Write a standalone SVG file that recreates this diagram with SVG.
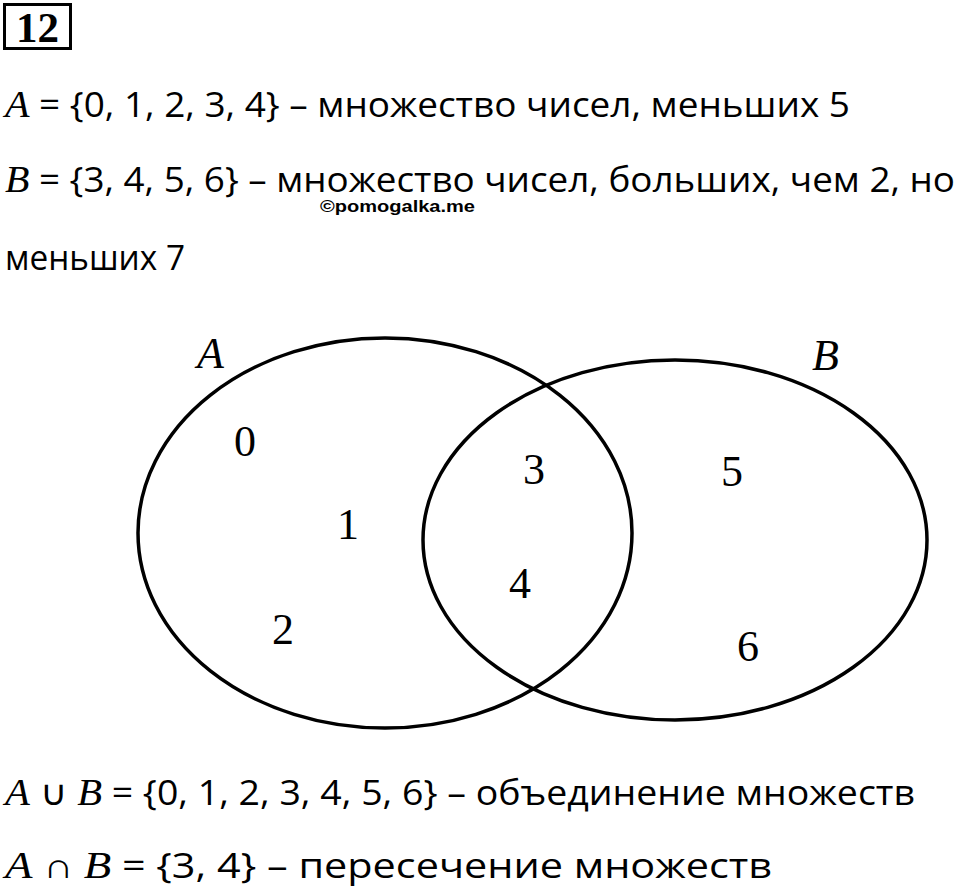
<svg xmlns="http://www.w3.org/2000/svg" width="960" height="891" viewBox="0 0 960 891">
<style>
.t{font-family:"Open Sans","Noto Sans","Liberation Sans",sans-serif;font-size:35px;fill:#000}
.m{font-family:"Liberation Serif",serif;font-style:italic;font-size:38px}
.n{font-family:"Liberation Serif","Times New Roman",serif;font-size:44px;fill:#000}
.nl{font-family:"Liberation Serif","Times New Roman",serif;font-style:italic;font-size:44px;fill:#000}
.e{fill:none;stroke:#000;stroke-width:3.5}
</style>
<rect width="960" height="891" fill="#fff"/>
<g id="num">
<rect x="4.5" y="4.5" width="66" height="44" fill="none" stroke="#000" stroke-width="3"/>
<text x="37.5" y="42" text-anchor="middle" font-family="Liberation Serif,serif" font-weight="bold" font-size="43">12</text>
</g>
<g id="text">
<text class="t" x="5" y="117" textLength="845" lengthAdjust="spacingAndGlyphs"><tspan class="m">A</tspan> = {0, 1, 2, 3, 4} – множество чисел, меньших 5</text>
<text class="t" x="5" y="192" textLength="950" lengthAdjust="spacingAndGlyphs"><tspan class="m">B</tspan> = {3, 4, 5, 6} – множество чисел, больших, чем 2, но</text>
<text x="320" y="212" font-family="Liberation Sans,Arial,sans-serif" font-weight="bold" font-size="16" textLength="155" lengthAdjust="spacingAndGlyphs">©pomogalka.me</text>
<text class="t" x="5" y="270" textLength="180" lengthAdjust="spacingAndGlyphs">меньших 7</text>
<text class="t" x="5" y="805" textLength="910" lengthAdjust="spacingAndGlyphs"><tspan class="m">A</tspan> ∪ <tspan class="m">B</tspan> = {0, 1, 2, 3, 4, 5, 6} – объединение множеств</text>
<text class="t" x="5" y="878" textLength="767" lengthAdjust="spacingAndGlyphs"><tspan class="m">A</tspan> ∩ <tspan class="m">B</tspan> = {3, 4} – пересечение множеств</text>
</g>
<g id="setA">
<ellipse class="e" cx="385" cy="533" rx="247" ry="195"/>
<text class="nl" x="197" y="368">A</text>
</g>
<g id="setB">
<ellipse class="e" cx="675" cy="540" rx="252" ry="180"/>
<text class="nl" x="812" y="370">B</text>
</g>
<g id="elements">
<text class="n" x="245" y="456" text-anchor="middle">0</text>
<text class="n" x="348" y="539" text-anchor="middle">1</text>
<text class="n" x="283" y="644" text-anchor="middle">2</text>
<text class="n" x="534" y="484" text-anchor="middle">3</text>
<text class="n" x="520" y="598" text-anchor="middle">4</text>
<text class="n" x="732" y="486" text-anchor="middle">5</text>
<text class="n" x="748" y="661" text-anchor="middle">6</text>
</g>
</svg>
